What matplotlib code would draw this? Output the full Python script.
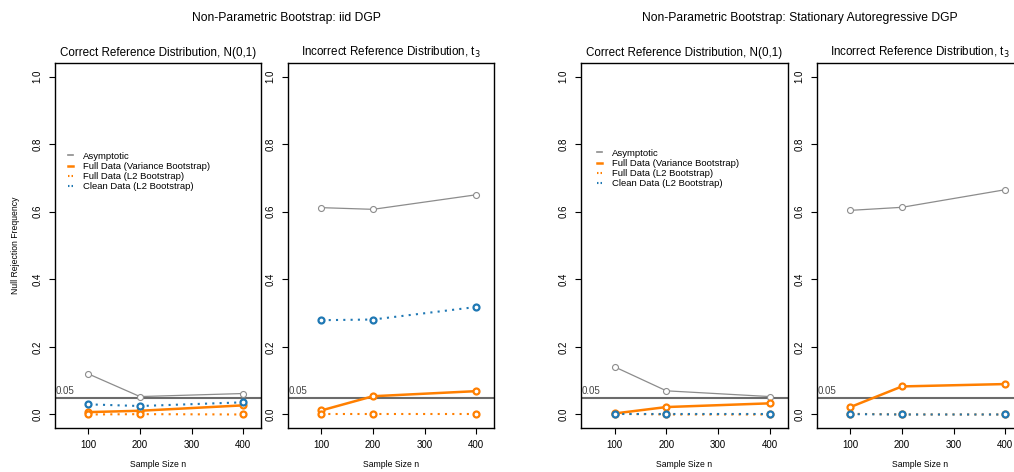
import matplotlib
matplotlib.use("Agg")
import matplotlib.pyplot as plt
from matplotlib.lines import Line2D

plt.rcParams["font.family"] = ["Liberation Sans", "DejaVu Sans"]

# Sample sizes on the x axis
sample_sizes = [100, 200, 400]
x_ticks = [100, 200, 300, 400]
y_ticks = [0.0, 0.2, 0.4, 0.6, 0.8, 1.0]
y_tick_labels = ["0.0", "0.2", "0.4", "0.6", "0.8", "1.0"]
nominal_level = 0.05

series_labels = ["Asymptotic", "Full Data (Variance Bootstrap)",
                 "Full Data (L2 Bootstrap)", "Clean Data (L2 Bootstrap)"]

suptitles = ["Non-Parametric Bootstrap: iid DGP",
             "Non-Parametric Bootstrap: Stationary Autoregressive DGP"]
panel_titles = ["Correct Reference Distribution, N(0,1)",
                "Incorrect Reference Distribution, t$_3$"]

# iid DGP, N(0,1) reference
iid_norm_asym = [0.120, 0.053, 0.062]
iid_norm_fullvar = [0.007, 0.011, 0.027]
iid_norm_fulll2 = [0.000, 0.001, 0.000]
iid_norm_clean = [0.030, 0.025, 0.036]

# iid DGP, t3 reference
iid_t3_asym = [0.612, 0.607, 0.650]
iid_t3_fullvar = [0.012, 0.054, 0.069]
iid_t3_fulll2 = [0.000, 0.000, 0.000]
iid_t3_clean = [0.279, 0.281, 0.318]

# AR DGP, N(0,1) reference
ar_norm_asym = [0.141, 0.070, 0.053]
ar_norm_fullvar = [0.003, 0.022, 0.033]
ar_norm_fulll2 = [0.002, 0.000, 0.000]
ar_norm_clean = [0.000, 0.000, 0.000]

# AR DGP, t3 reference
ar_t3_asym = [0.604, 0.613, 0.665]
ar_t3_fullvar = [0.022, 0.083, 0.090]
ar_t3_fulll2 = [0.002, 0.000, 0.000]
ar_t3_clean = [0.001, 0.000, 0.000]

panels = [
    (iid_norm_asym, iid_norm_fullvar, iid_norm_fulll2, iid_norm_clean),
    (iid_t3_asym, iid_t3_fullvar, iid_t3_fulll2, iid_t3_clean),
    (ar_norm_asym, ar_norm_fullvar, ar_norm_fulll2, ar_norm_clean),
    (ar_t3_asym, ar_t3_fullvar, ar_t3_fulll2, ar_t3_clean),
]

GRAY = "#8c8c8c"
ORANGE = "#ff7f00"
BLUE = "#1f78b4"
DOT = (0, (1, 2.5))
LEGEND_DOT = (0, (0.7, 1.0))

W, H = 1014, 472
fig = plt.figure(figsize=(W / 100, H / 100), dpi=100)

# panel boxes in pixels: (left, top, width, height)
boxes = [(55, 63, 206, 365), (288, 63, 206, 365),
         (581, 63, 207, 365), (817, 63, 206, 365)]
legend_anchors = {0: (0.063, 0.757), 2: (0.078, 0.765)}


def px_axes(left, top, w, h):
    return fig.add_axes([left / W, 1 - (top + h) / H, w / W, h / H])


for i, (box, data) in enumerate(zip(boxes, panels)):
    ax = px_axes(*box)
    asym, fullvar, fulll2, clean = data
    ax.axhline(nominal_level, color="#6b6b6b", lw=1.5, zorder=1)
    ax.text(0.003, nominal_level + 0.006, "0.05", transform=ax.get_yaxis_transform(),
            fontsize=7, color="#444444", ha="left", va="bottom")
    ax.plot(sample_sizes, asym, color=GRAY, lw=0.9, marker="o", ms=4.3,
            mfc="white", mec=GRAY, mew=0.8, zorder=3)
    ax.plot(sample_sizes, fullvar, color=ORANGE, lw=1.8, marker="o", ms=4.3,
            mfc="white", mec=ORANGE, mew=1.6, zorder=3)
    ax.plot(sample_sizes, fulll2, color=ORANGE, lw=1.5, ls=DOT, marker="o", ms=4.3,
            mfc="white", mec=ORANGE, mew=1.6, zorder=4)
    ax.plot(sample_sizes, clean, color=BLUE, lw=1.5, ls=DOT, marker="o", ms=4.3,
            mfc="white", mec=BLUE, mew=1.6, zorder=5)

    ax.set_xlim(35.2, 434.8)
    ax.set_ylim(-0.04, 1.04)
    ax.set_xticks(x_ticks)
    ax.set_xticklabels([str(t) for t in x_ticks], fontsize=7)
    ax.set_yticks(y_ticks)
    ax.set_yticklabels(y_tick_labels, fontsize=7, rotation=90, va="center")
    ax.tick_params(direction="out", length=4.3, width=0.8, pad=4.5)
    for sp in ax.spines.values():
        sp.set_linewidth(1.0)
    ax.set_title(panel_titles[i % 2], fontsize=8.4, pad=5)
    ax.set_xlabel("Sample Size n", fontsize=6.2, labelpad=7)
    if i == 0:
        ax.set_ylabel("Null Rejection Frequency", fontsize=6.2, labelpad=9)
    if i % 2 == 0:
        handles = [
            Line2D([], [], color=GRAY, lw=1.2),
            Line2D([], [], color=ORANGE, lw=1.8),
            Line2D([], [], color=ORANGE, lw=1.5, ls=LEGEND_DOT),
            Line2D([], [], color=BLUE, lw=1.5, ls=LEGEND_DOT),
        ]
        ax.legend(handles, series_labels, loc="upper left",
                  bbox_to_anchor=legend_anchors[i], frameon=False, fontsize=6.8,
                  handlelength=0.55, handletextpad=1.0, labelspacing=0.12,
                  borderaxespad=0, borderpad=0)

fig.text(286 / W, 1 - 18 / H, suptitles[0], fontsize=8.7, ha="center", va="center")
fig.text(800 / W, 1 - 18 / H, suptitles[1], fontsize=8.7, ha="center", va="center")

fig.savefig("out.png", dpi=100)
